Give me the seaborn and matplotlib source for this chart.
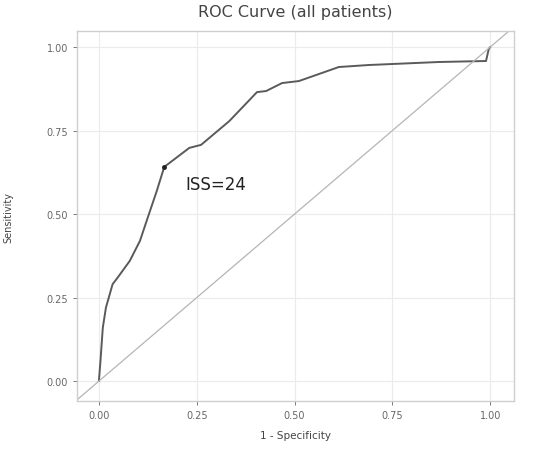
import seaborn as sns
import pandas as pd
import matplotlib.pyplot as plt

# ROC curve points
fpr = [0.0, 0.004, 0.010, 0.018, 0.035, 0.048, 0.079, 0.105, 0.125, 0.147, 0.167,
       0.231, 0.261, 0.333, 0.404, 0.427, 0.468, 0.511, 0.613, 0.690, 0.869,
       0.989, 0.996, 1.0]
tpr = [0.0, 0.06, 0.16, 0.22, 0.29, 0.31, 0.36, 0.42, 0.49, 0.566, 0.641,
       0.698, 0.707, 0.778, 0.865, 0.868, 0.892, 0.898, 0.940, 0.946, 0.955,
       0.958, 0.994, 1.0]
cut_x, cut_y = 0.167, 0.641
cut_label = "ISS=24"

df = pd.DataFrame({"fpr": fpr, "tpr": tpr})

sns.set_theme(style="whitegrid")
fig = plt.figure(figsize=(5.42, 4.56), dpi=100)
ax = fig.add_axes([0.142, 0.118, 0.806, 0.812])

sns.lineplot(data=df, x="fpr", y="tpr", sort=False, color="#5a5a5a", linewidth=1.4, ax=ax)
ax.axline((0, 0), slope=1, color="#b5b5b5", linewidth=0.9)
ax.plot([cut_x], [cut_y], "o", color="#222222", markersize=2.5)
ax.text(cut_x + 0.055, cut_y - 0.05, cut_label, fontsize=12, color="#222222", va="center")

ax.set_xlim(-0.056, 1.06)
ax.set_ylim(-0.06, 1.048)
ticks = [0.0, 0.25, 0.5, 0.75, 1.0]
ax.set_xticks(ticks)
ax.set_yticks(ticks)
ax.set_xticklabels([f"{t:.2f}" for t in ticks])
ax.set_yticklabels([f"{t:.2f}" for t in ticks])
ax.tick_params(labelsize=7, colors="#666666", length=3, width=0.6, direction="out",
               bottom=True, left=True)
ax.grid(color="#ebebeb", linewidth=0.8)
for s in ax.spines.values():
    s.set_edgecolor("#cfcfcf")
    s.set_linewidth(1.0)

ax.set_xlabel("1 - Specificity", fontsize=7.5, color="#444444", labelpad=7)
ax.set_ylabel("Sensitivity", fontsize=7, color="#444444", labelpad=24)
ax.set_title("ROC Curve (all patients)", fontsize=11.5, color="#444444", pad=11)

fig.savefig("out.png", dpi=100)
